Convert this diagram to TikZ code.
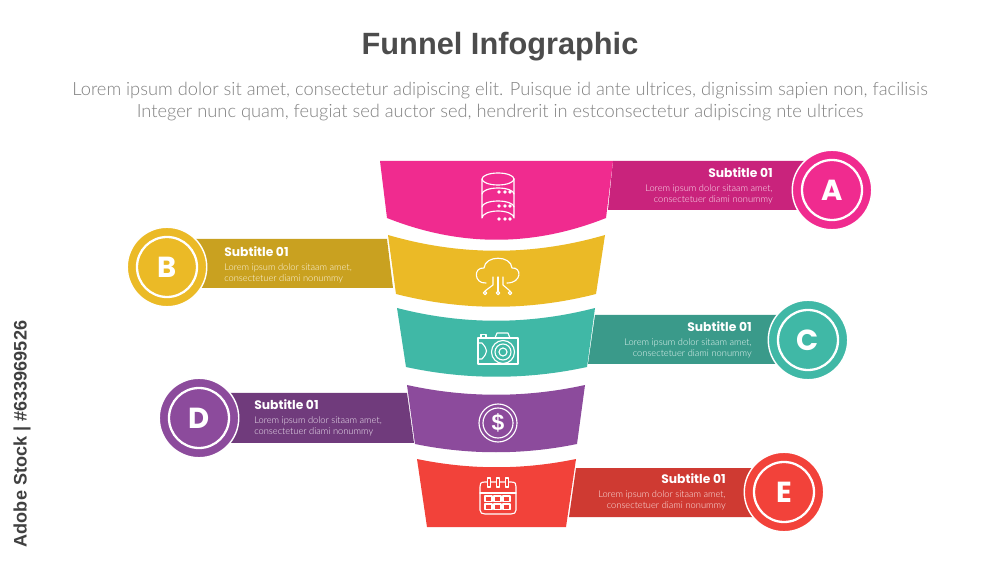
\documentclass[tikz,border=0pt]{standalone}
\usepackage{fontspec}
\setmainfont[UprightFont=* Light, BoldFont=*]{Lato}
\newfontfamily\headfont{Liberation Sans}
\newfontfamily\badgefont{Poppins}
\usetikzlibrary{calc}

\definecolor{pinkA}{HTML}{F02B8F}
\definecolor{pinkB}{HTML}{C9237C}
\definecolor{goldA}{HTML}{EBBA26}
\definecolor{goldB}{HTML}{C9A120}
\definecolor{tealA}{HTML}{40B8A6}
\definecolor{tealB}{HTML}{3A9A8A}
\definecolor{plumA}{HTML}{8C4B9C}
\definecolor{plumB}{HTML}{703B7C}
\definecolor{redA}{HTML}{F2423A}
\definecolor{redB}{HTML}{CF3A32}

\begin{document}
\begin{tikzpicture}[x=0.02cm, y=-0.02cm,
    icon/.style={draw=white, line width=0.65pt, line cap=round, line join=round},
    badge/.style={circle, draw=white, line width=0.8pt, minimum size=1.59cm, inner sep=0pt, text=white, font=\badgefont\bfseries\fontsize{16.5}{17}\selectfont},
    subtitle/.style={text=white, inner sep=0pt, font=\badgefont\bfseries\fontsize{7}{7}\selectfont},
    blurb/.style={inner sep=0pt, font=\fontsize{5.3}{6.25}\selectfont}]

\path[use as bounding box, fill=white] (0,0) rectangle (1000,563);

\node (title) at (500,47) [text=black!70, font=\headfont\bfseries\fontsize{17.5}{20}\selectfont] {Funnel Infographic};
\node (intro) at (500,101.5) [text=black!50, align=center, font=\fontsize{10.4}{12.5}\selectfont]
    {Lorem ipsum dolor sit amet, consectetur adipiscing elit. Puisque id ante ultrices, dignissim sapien non, facilisis\\
     Integer nunc quam, feugiat sed auctor sed, hendrerit in estconsectetur adipiscing nte ultrices};
\node (stock) at (22,434) [rotate=90, text=black!75, font=\headfont\bfseries\fontsize{10.3}{10}\selectfont] {Adobe Stock | \#633969526};

% ribbons
\foreach \col/\xt/\yt/\xb/\yb/\xc in {pinkB/613/161/608/210/832, goldB/387/239/393/288/167, tealB/595/315/588/364/808, plumB/407/393/414/443/199, redB/576/468/569/517/784} {
    \fill[\col] (\xt,\yt) -- (\xc,\yt) -- (\xc,\yb) -- (\xb,\yb) -- cycle;
}

% funnel
\fill[pinkA] (380,161) -- (613,161) -- (606,218) .. controls (533,247) and (460,247) .. (387,218) -- cycle;
\fill[goldA] (388,235) .. controls (460,256) and (533,256) .. (605,235) -- (596,294) .. controls (529,311) and (463,311) .. (396,294) -- cycle;
\fill[tealA] (397,308) .. controls (463,325) and (529,325) .. (595,308) -- (587,367) .. controls (527,380) and (466,380) .. (406,367) -- cycle;
\fill[plumA] (407,385) .. controls (466,398) and (526,398) .. (585,385) -- (577,444) .. controls (523,455) and (469,455) .. (415,444) -- cycle;
\fill[redA] (417,459) .. controls (470,470) and (523,470) .. (576,459) -- (566,527) -- (427,527) -- cycle;

% badges and texts
\foreach \l/\col/\cx/\cy/\tx/\ty/\side/\al in {A/pinkA/832/190/773/173/east/right, B/goldA/167/267/224/252/west/left, C/tealA/808/340/752/327/east/right, D/plumA/199/418/254/405/west/left, E/redA/784/492/726/479/east/right} {
    \node[badge, fill=\col] (badge\l) at (\cx,\cy) {\l};
    \draw[white, line width=1.3pt] (badge\l.center) circle [radius=30];
    \node[subtitle, anchor=\side] (sub\l) at (\tx,\ty) {Subtitle 01};
    \node[blurb, anchor=\side, align=\al, text=white!88!\col] (text\l) at (\tx,\ty+21.5) {Lorem ipsum dolor sitaam amet,\\consectetuer diami nonummy};
}

% database
\draw[icon] (482,179) -- (482,218) arc [start angle=180, end angle=360, x radius=16, y radius=7] -- (514,179);
\draw[icon] (498,179) ellipse [x radius=16, y radius=6];
\draw[icon] (482,194) arc [start angle=180, end angle=360, x radius=16, y radius=6];
\draw[icon] (482,207) arc [start angle=180, end angle=360, x radius=16, y radius=6];
\foreach \y in {192,206,219} {
    \foreach \x in {499,505,510} {
        \fill[white] (\x,\y) circle [radius=1.8];
    }
}

% cloud
\draw[icon] (486,283) .. controls (474,284) and (473,267) .. (484,268) .. controls (485,255) and (511,255) .. (512,268) .. controls (522,267) and (522,283) .. (507,283);
\draw[icon] (493,277) -- (493,285) -- (485,291);
\draw[icon] (498,277) -- (498,291);
\draw[icon] (503,277) -- (503,285) -- (510,291);
\foreach \x in {485,498,510} {
    \draw[icon] (\x,293) circle [radius=1.7];
}

% camera
\draw[icon] (478,338) -- (518,338) -- (518,364) -- (478,364) -- cycle;
\draw[icon] (478,343) -- (482,343) .. controls (488,350) and (488,352) .. (482,359) -- (478,359);
\draw[icon] (481,338) -- (481,334.5) -- (486,334.5) -- (486,338);
\draw[icon] (495,338) -- (497,333) -- (508,333) -- (510,338);
\draw[icon] (503,352) circle [radius=11.5];
\draw[icon] (503,352) circle [radius=8];
\draw[icon] (503,352) circle [radius=4];

% coin
\draw[icon] (498,423) circle [radius=19];
\draw[icon] (498,423) circle [radius=15];
\node (coin) at (498,423) [text=white, inner sep=0pt, font=\headfont\bfseries\fontsize{13}{13}\selectfont] {\$};

% calendar
\draw[icon] (485,482) .. controls (480,482) and (480,484) .. (480,487) -- (480,510) .. controls (480,513) and (482,514) .. (485,514) -- (511,514) .. controls (514,514) and (516,513) .. (516,510) -- (516,487) .. controls (516,484) and (516,482) .. (511,482) -- cycle;
\draw[icon] (480,493) -- (516,493);
\foreach \x in {489,498,507} {
    \draw[icon, fill=redA] (\x-1.5,478) rectangle (\x+1.5,487);
}
\foreach \x in {485,494,503} {
    \foreach \y in {496,504} {
        \draw[icon] (\x,\y) rectangle (\x+7,\y+5.5);
    }
}
\end{tikzpicture}
\end{document}
